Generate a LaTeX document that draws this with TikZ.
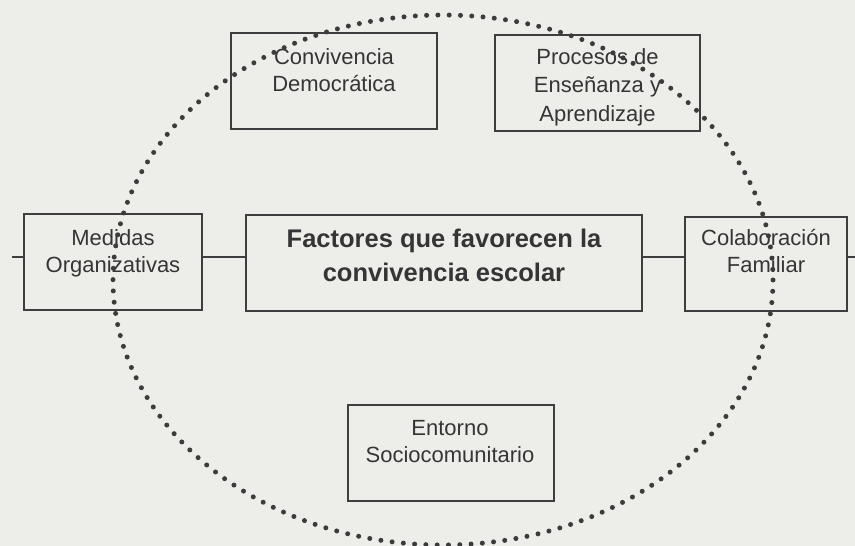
\documentclass[tikz,border=0pt]{standalone}
\usepackage{fontspec}
\setmainfont{Liberation Sans}
\usetikzlibrary{calc}
\definecolor{bgc}{HTML}{EDEDEA}
\definecolor{ink}{HTML}{353535}
\definecolor{linec}{HTML}{3E3E3E}
\definecolor{dotc}{HTML}{3C3C3C}
\tikzset{
  box/.style={draw=linec, line width=2pt, rectangle, inner sep=0pt},
  lbl/.style={anchor=north, inner sep=0pt, align=center, text=ink,
    font=\fontsize{22}{27.5}\selectfont},
  ttl/.style={anchor=north, inner sep=0pt, align=center, text=ink,
    font=\bfseries\fontsize{25.5}{34}\selectfont},
  conn/.style={draw=linec, line width=2.4pt},
  dots/.style={draw=dotc, line width=5pt, line cap=round, dash pattern=on 0pt off 11.3pt}
}
\begin{document}
\begin{tikzpicture}[x=1pt, y=-1pt]
\fill[bgc] (0,0) rectangle (855,546);
\useasboundingbox (0,0) rectangle (855,546);
% boxes
\node[box, minimum width=206pt, minimum height=96pt] (conv) at (334,81) {};
\node[box, minimum width=205pt, minimum height=96pt] (proc) at (597.5,83) {};
\node[box, minimum width=178pt, minimum height=96pt] (med) at (113,262) {};
\node[box, minimum width=396pt, minimum height=96pt] (fact) at (444,263) {};
\node[box, minimum width=162pt, minimum height=94pt] (col) at (766,264) {};
\node[box, minimum width=206pt, minimum height=96pt] (ent) at (451,453) {};
% texts
\node[lbl] (convt) at ($(conv.north)+(0,16)$) {Convivencia\\Democrática};
\node[lbl, font=\fontsize{22}{28.5}\selectfont] (proct) at ($(proc.north)+(0,14)$) {Procesos de\\Enseñanza y\\Aprendizaje};
\node[lbl] (medt) at ($(med.north)+(0,16)$) {Medidas\\Organizativas};
\node[ttl] (factt) at ($(fact.north)+(0,14.5)$) {Factores que favorecen la\\convivencia escolar};
\node[lbl] (colt) at ($(col.north)+(0,13)$) {Colaboración\\Familiar};
\node[lbl] (entt) at ($(ent.north)+(-1,16)$) {Entorno\\Sociocomunitario};
% connectors
\coordinate (lend) at (12,257);
\coordinate (rend) at (855,257);
\draw[conn] (lend) -- (med.west |- lend);
\draw[conn] (med.east |- lend) -- (fact.west |- lend);
\draw[conn] (fact.east |- lend) -- (col.west |- lend);
\draw[conn] (col.east |- lend) -- (rend);
% dotted ring
\draw[dots] (443,280) ellipse [x radius=330, y radius=265];
\end{tikzpicture}
\end{document}
